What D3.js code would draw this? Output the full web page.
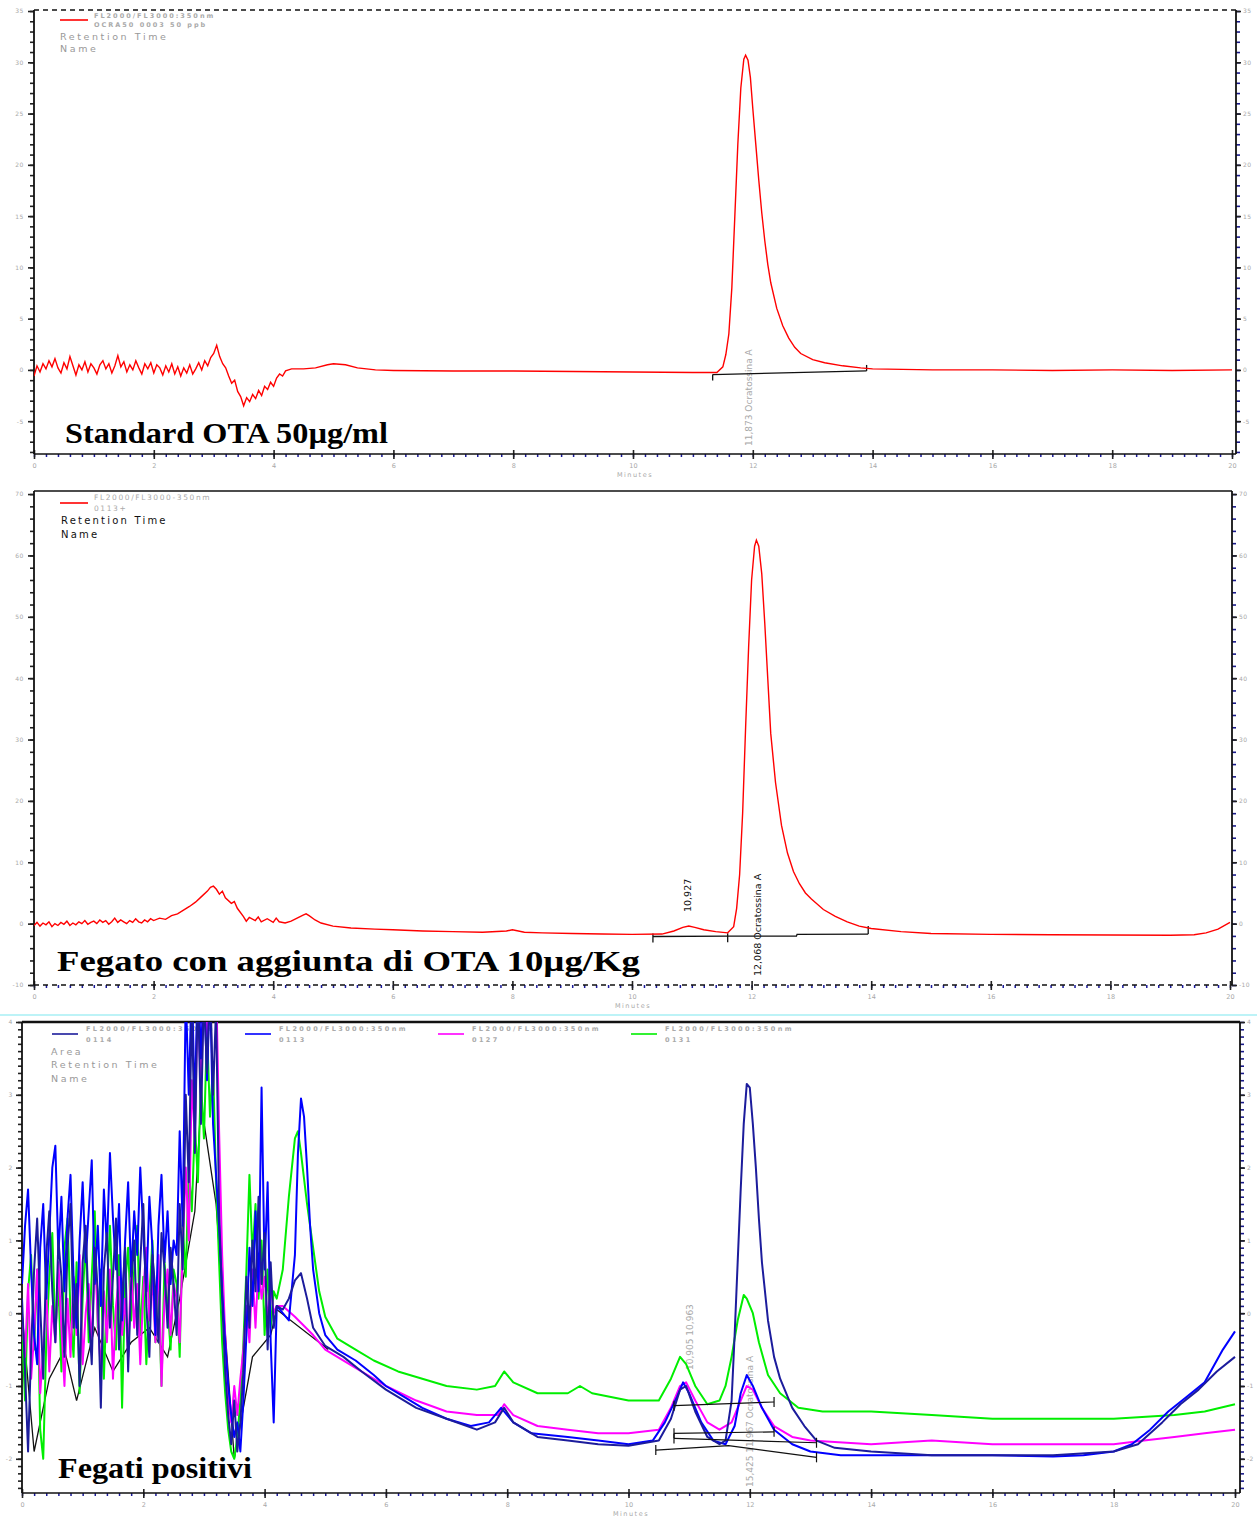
<!DOCTYPE html>
<html><head><meta charset="utf-8">
<script src="https://cdn.jsdelivr.net/npm/d3@7"></script>
<style>body{margin:0;background:#fff}svg{display:block}</style>
</head><body>
<svg id="c" width="1257" height="1522"></svg>
<script>
// ---------------- DATA ----------------
const xTicks = [0,2,4,6,8,10,12,14,16,18,20];
const p1YTicks = [-5,0,5,10,15,20,25,30,35];
const p2YTicks = [-10,0,10,20,30,40,50,60,70];
const p3YTicks = [-2,-1,0,1,2,3,4];

const p1Title = "Standard OTA 50µg/ml";
const p2Title = "Fegato con aggiunta di OTA 10µg/Kg";
const p3Title = "Fegati positivi";

// Panel 1: standard (time min, signal)
const p1Trace = [[0,-0.6],[0.05,0.4],[0.1,-0.2],[0.15,0.6],[0.2,0.1],[0.25,0.9],[0.3,0.3],[0.35,1.1],[0.4,0.2],[0.45,-0.3],[0.5,0.7],[0.55,0.1],[0.6,1.3],[0.65,0.4],[0.7,-0.5],[0.75,0.5],[0.8,0.0],[0.85,0.8],[0.9,-0.2],[0.95,0.6],[1.0,0.2],[1.05,-0.4],[1.1,0.5],[1.15,0.9],[1.2,0.1],[1.25,0.6],[1.3,-0.3],[1.35,0.4],[1.4,1.4],[1.45,0.3],[1.5,0.8],[1.55,-0.2],[1.6,0.5],[1.65,0.0],[1.7,0.9],[1.75,0.2],[1.8,-0.4],[1.85,0.6],[1.9,0.1],[1.95,0.7],[2.0,-0.3],[2.05,0.5],[2.1,0.2],[2.15,-0.5],[2.2,0.4],[2.25,-0.2],[2.3,0.6],[2.35,-0.4],[2.4,0.3],[2.45,-0.6],[2.5,0.2],[2.55,-0.3],[2.6,0.5],[2.65,-0.4],[2.7,0.1],[2.75,0.7],[2.8,0.0],[2.85,0.9],[2.9,0.4],[2.95,1.2],[3.0,1.6],[3.05,2.4],[3.1,1.3],[3.15,0.6],[3.2,0.2],[3.25,-0.6],[3.3,-1.3],[3.35,-1.0],[3.4,-2.1],[3.45,-2.6],[3.5,-3.5],[3.55,-2.7],[3.6,-3.1],[3.65,-2.4],[3.7,-2.8],[3.75,-2.0],[3.8,-2.5],[3.85,-1.6],[3.9,-1.9],[3.95,-1.2],[4.0,-1.6],[4.05,-0.8],[4.1,-0.4],[4.15,-0.6],[4.2,-0.1],[4.3,0.1],[4.5,0.1],[4.7,0.2],[4.9,0.5],[5.0,0.6],[5.2,0.5],[5.4,0.2],[5.7,0.0],[6,-0.05],[7,-0.1],[8,-0.1],[9,-0.15],[10,-0.2],[11,-0.25],[11.4,-0.25],[11.5,0.3],[11.55,1.5],[11.6,3.5],[11.65,8],[11.7,15],[11.75,22],[11.8,27.5],[11.85,30.3],[11.88,30.7],[11.92,30.2],[11.96,28.5],[12.0,25.5],[12.05,22],[12.1,18.5],[12.15,15.3],[12.2,12.6],[12.25,10.3],[12.3,8.5],[12.4,6.0],[12.5,4.3],[12.6,3.1],[12.7,2.2],[12.8,1.6],[13.0,1.0],[13.2,0.7],[13.5,0.4],[13.8,0.2],[14,0.1],[15,0.0],[16,0.0],[17,-0.05],[18,0.0],[19,-0.05],[20,0.0]];
const p1Baseline = [[11.33,-0.45],[13.9,-0.1]];

// Panel 2: spiked liver
const p2Trace = [[0,-0.3],[0.05,0.2],[0.1,-0.4],[0.15,0.1],[0.2,-0.2],[0.25,0.3],[0.3,-0.5],[0.35,0.0],[0.4,-0.3],[0.45,0.2],[0.5,-0.1],[0.55,0.4],[0.6,-0.3],[0.65,0.1],[0.7,-0.2],[0.75,0.3],[0.8,0.0],[0.85,0.5],[0.9,-0.1],[0.95,0.2],[1.0,0.4],[1.05,0.0],[1.1,0.6],[1.15,0.2],[1.2,0.5],[1.25,-0.1],[1.3,0.3],[1.35,0.9],[1.4,0.2],[1.45,0.6],[1.5,0.3],[1.55,0.0],[1.6,0.5],[1.65,0.2],[1.7,0.8],[1.75,0.3],[1.8,0.1],[1.85,0.6],[1.9,0.3],[1.95,0.8],[2.0,0.5],[2.1,0.9],[2.2,0.7],[2.3,1.3],[2.4,1.6],[2.5,2.2],[2.6,2.8],[2.7,3.5],[2.8,4.4],[2.9,5.3],[2.95,5.9],[3.0,6.1],[3.05,5.6],[3.1,4.8],[3.15,5.3],[3.2,4.2],[3.3,3.3],[3.35,3.6],[3.4,2.5],[3.5,1.2],[3.55,0.4],[3.6,1.0],[3.7,0.5],[3.75,1.1],[3.8,0.3],[3.9,0.8],[4.0,0.2],[4.05,0.9],[4.1,0.3],[4.2,0.1],[4.3,0.4],[4.4,0.9],[4.5,1.4],[4.55,1.6],[4.6,1.3],[4.7,0.6],[4.8,0.1],[5.0,-0.4],[5.3,-0.7],[5.7,-0.9],[6,-1.0],[6.5,-1.2],[7,-1.3],[7.5,-1.4],[7.9,-1.2],[8.0,-1.0],[8.2,-1.4],[8.5,-1.5],[9,-1.6],[9.5,-1.7],[10,-1.75],[10.5,-1.7],[10.7,-1.2],[10.85,-0.6],[10.95,-0.4],[11.05,-0.6],[11.2,-1.0],[11.4,-1.3],[11.6,-1.5],[11.7,-0.5],[11.75,2.5],[11.8,8],[11.85,18],[11.9,32],[11.95,45],[12.0,56],[12.05,61.5],[12.08,62.5],[12.12,61.5],[12.17,57],[12.22,49],[12.27,40],[12.32,31],[12.4,23],[12.5,16],[12.6,11.5],[12.7,8.5],[12.8,6.5],[12.9,5.0],[13.0,4.0],[13.2,2.3],[13.4,1.2],[13.6,0.3],[13.8,-0.4],[14,-0.8],[14.5,-1.3],[15,-1.6],[16,-1.75],[17,-1.8],[18,-1.85],[19,-1.9],[19.4,-1.8],[19.6,-1.5],[19.8,-0.9],[20,0.2]];
const p2Baseline = [[10.35,-2.1],[11.6,-2.05],[12.75,-2.05],[12.76,-1.75],[13.95,-1.7]];
const p2BaselineTicks = [[10.35,-2.1],[11.6,-2.05],[13.95,-1.7]];

// Panel 3: positive livers
const p3NoiseTimes = [0,0.05,0.1,0.15,0.2,0.25,0.3,0.35,0.4,0.45,0.5,0.55,0.6,0.65,0.7,0.75,0.8,0.85,0.9,0.95,1.0,1.05,1.1,1.15,1.2,1.25,1.3,1.35,1.4,1.45,1.5,1.55,1.6,1.65,1.7,1.75,1.8,1.85,1.9,1.95,2.0,2.05,2.1,2.15,2.2,2.25,2.3,2.35,2.4,2.45,2.5,2.55,2.6,2.65,2.7,2.75,2.8,2.85,2.9,2.95,3.0,3.05,3.1,3.15,3.2,3.25,3.3,3.35,3.4,3.45,3.5,3.55,3.6,3.65,3.7,3.75,3.8,3.85,3.9,3.95,4.0,4.05,4.1,4.15,4.2];
const p3BlueNoise = [0.4,1.2,1.7,0.6,-0.3,-0.7,0.9,1.5,0.2,1.1,2.0,2.3,0.8,1.6,0.3,1.3,1.9,0.5,-0.2,1.0,1.8,0.7,1.4,2.1,0.4,1.2,0.1,1.7,0.9,2.2,1.3,0.6,1.5,-0.1,1.0,1.8,0.5,1.4,0.8,2.0,1.1,0.3,1.6,0.9,-0.3,1.2,1.9,0.7,1.4,0.4,1.0,0.8,2.5,1.2,4.4,3.0,4.6,2.8,4.8,3.5,4.6,3.2,4.5,2.6,1.9,1.2,0.3,-0.4,-1.0,-1.4,-1.7,-1.5,-1.9,-1.2,-0.3,0.9,0.1,1.4,0.3,3.1,0.6,1.8,-0.4,-1.5,0.1];
const p3NavyNoise = [0.2,-0.8,-1.9,-0.5,0.6,1.3,0.1,-0.9,0.8,1.4,0.3,-0.4,1.0,0.5,-0.6,0.9,1.5,-0.2,0.4,-1.0,0.7,1.2,0.0,-0.7,0.9,0.3,-1.3,0.6,1.1,-0.2,0.5,1.3,-0.5,0.2,0.9,-0.8,0.4,1.0,-0.3,0.7,1.5,0.1,-0.6,0.8,0.3,-0.4,1.1,0.6,-0.2,0.9,0.4,-0.3,1.5,0.6,3.0,1.8,4.3,2.2,4.5,2.6,4.4,3.3,4.6,3.0,4.2,1.4,0.2,-0.8,-1.4,-1.8,-1.2,-1.9,-1.5,-0.8,0.5,-0.2,1.0,0.3,1.6,0.4,1.1,-0.5,0.7,-0.2,0.1];
const p3MagentaNoise = [0.0,-0.6,0.4,-0.9,-0.3,0.6,-1.1,-0.5,0.3,-0.8,0.1,-0.4,0.7,-0.2,-1.0,0.2,-0.6,0.5,-0.3,0.8,-0.7,0.0,0.4,-0.5,0.9,-0.1,-0.8,0.3,-0.4,0.6,-0.9,0.1,0.5,-0.3,0.2,-0.6,0.7,-0.2,0.4,-0.7,0.3,0.9,-0.1,0.5,-0.4,0.8,-1.0,0.2,0.6,-0.3,0.4,0.2,-0.4,0.9,2.0,1.0,3.2,2.4,4.5,3.0,4.6,3.8,4.5,4.4,4.6,2.5,0.8,-0.3,-1.2,-1.5,-1.0,-1.4,-0.9,-0.5,0.1,-0.4,0.6,-0.2,0.7,0.2,0.5,-0.1,0.4,0.0,0.1];
const p3GreenNoise = [-0.2,-1.2,0.3,0.8,-0.5,0.6,-1.6,-2.0,-0.4,0.5,1.1,-0.3,0.4,-0.8,0.9,1.3,0.0,-0.6,0.7,-1.1,0.2,1.0,-0.4,0.5,1.4,-0.2,0.6,-0.9,0.3,1.2,0.1,-0.5,0.8,-1.3,0.4,0.9,-0.1,0.6,1.2,-0.3,0.5,-0.7,0.2,1.0,-0.4,0.3,-1.0,0.7,0.1,-0.5,0.6,0.4,-0.6,1.2,0.5,2.0,1.4,2.6,1.8,3.2,2.4,3.9,2.7,3.4,1.8,0.7,-0.4,-1.1,-1.6,-1.9,-2.0,-1.7,-1.2,-0.4,0.6,1.9,0.8,1.5,0.2,1.0,-0.3,0.6,-0.2,0.3,0.2];

const p3BlueTail = [[4.3,0.0],[4.4,-0.1],[4.5,0.8],[4.55,2.2],[4.6,2.95],[4.65,2.7],[4.7,2.0],[4.75,1.2],[4.8,0.6],[4.9,0.0],[5.0,-0.3],[5.2,-0.5],[5.5,-0.65],[5.8,-0.85],[6.0,-1.0],[6.3,-1.15],[6.6,-1.3],[7.0,-1.45],[7.4,-1.55],[7.7,-1.5],[7.9,-1.3],[8.1,-1.5],[8.4,-1.65],[9,-1.7],[9.5,-1.75],[10,-1.8],[10.4,-1.75],[10.6,-1.5],[10.8,-1.15],[10.9,-0.95],[11.0,-1.1],[11.2,-1.5],[11.4,-1.75],[11.6,-1.8],[11.75,-1.55],[11.85,-1.1],[11.95,-0.85],[12.05,-1.0],[12.2,-1.3],[12.4,-1.6],[12.7,-1.8],[13,-1.9],[13.5,-1.95],[14,-1.95],[15,-1.95],[16,-1.95],[17,-1.97],[17.5,-1.95],[18,-1.9],[18.3,-1.8],[18.6,-1.6],[18.9,-1.35],[19.2,-1.15],[19.5,-0.95],[19.8,-0.5],[20,-0.25]];
const p3NavyTail = [[4.3,0.05],[4.4,0.2],[4.5,0.45],[4.6,0.55],[4.7,0.2],[4.8,-0.2],[5.0,-0.45],[5.3,-0.6],[5.6,-0.8],[6,-1.05],[6.5,-1.3],[7,-1.45],[7.5,-1.6],[7.8,-1.5],[7.95,-1.3],[8.1,-1.5],[8.5,-1.7],[9,-1.75],[9.5,-1.8],[10,-1.82],[10.5,-1.75],[10.7,-1.45],[10.85,-1.05],[10.95,-1.0],[11.1,-1.35],[11.3,-1.7],[11.5,-1.8],[11.6,-1.75],[11.7,-1.2],[11.75,-0.3],[11.8,0.7],[11.85,1.7],[11.9,2.6],[11.95,3.15],[12.0,3.1],[12.05,2.6],[12.1,2.0],[12.15,1.3],[12.2,0.7],[12.3,-0.1],[12.4,-0.6],[12.5,-0.9],[12.7,-1.3],[12.9,-1.55],[13.1,-1.75],[13.4,-1.85],[14,-1.9],[15,-1.95],[16,-1.95],[17,-1.95],[18,-1.9],[18.4,-1.8],[18.8,-1.5],[19.1,-1.25],[19.4,-1.05],[19.7,-0.8],[20,-0.6]];
const p3GreenTail = [[4.3,0.6],[4.4,1.6],[4.5,2.4],[4.55,2.5],[4.6,2.2],[4.7,1.5],[4.8,0.9],[4.9,0.3],[5.0,-0.05],[5.2,-0.35],[5.5,-0.5],[5.8,-0.65],[6.2,-0.8],[6.6,-0.9],[7,-1.0],[7.5,-1.05],[7.8,-1.0],[7.95,-0.8],[8.1,-0.95],[8.5,-1.1],[9,-1.1],[9.2,-1.0],[9.4,-1.1],[10,-1.2],[10.5,-1.2],[10.7,-0.9],[10.85,-0.6],[10.95,-0.7],[11.1,-1.0],[11.3,-1.25],[11.5,-1.2],[11.6,-1.0],[11.7,-0.6],[11.8,-0.1],[11.9,0.25],[11.95,0.2],[12.05,0.0],[12.15,-0.4],[12.3,-0.85],[12.5,-1.1],[12.8,-1.3],[13.2,-1.35],[14,-1.35],[15,-1.4],[16,-1.45],[17,-1.45],[18,-1.45],[19,-1.4],[19.5,-1.35],[20,-1.25]];
const p3MagentaTail = [[4.3,0.1],[4.5,-0.05],[4.8,-0.3],[5.0,-0.5],[5.5,-0.75],[6,-1.0],[6.5,-1.2],[7,-1.35],[7.5,-1.4],[7.85,-1.4],[7.95,-1.25],[8.1,-1.4],[8.5,-1.55],[9,-1.6],[9.5,-1.65],[10,-1.65],[10.5,-1.6],[10.7,-1.3],[10.85,-1.0],[10.95,-0.95],[11.1,-1.2],[11.3,-1.5],[11.5,-1.6],[11.7,-1.5],[11.85,-1.2],[11.95,-1.0],[12.05,-1.05],[12.2,-1.3],[12.4,-1.55],[12.7,-1.7],[13,-1.75],[14,-1.8],[15,-1.75],[16,-1.8],[17,-1.8],[18,-1.8],[18.5,-1.75],[19,-1.7],[19.5,-1.65],[20,-1.6]];
const p3BlackTrace = [[0.0,0.0],[0.2,-1.9],[0.45,-0.9],[0.7,-0.5],[0.9,-1.2],[1.2,-0.2],[1.5,-0.8],[1.8,-0.4],[2.1,-0.2],[2.4,-0.6],[2.6,0.2],[2.85,1.4],[2.95,2.9],[3.2,1.5],[3.5,-2.0],[3.8,-0.6],[4.1,-0.3],[4.2,0.05],[5.05,-0.5]];
const p3Baselines = [
  [[10.75,-1.27],[12.4,-1.22]],
  [[10.75,-1.65],[12.4,-1.63]],
  [[10.75,-1.72],[13.1,-1.78]],
  [[10.45,-1.88],[11.65,-1.82],[13.1,-1.98]]
];
const p3Series = ["0114","0113","0127","0131"];
const p3Colors = ["#1c1c9c","#0000ff","#ff00ff","#00ee00"];

// ---------------- DRAW ----------------
const svg = d3.select('#c');
svg.append('rect').attr('width',1257).attr('height',1522).attr('fill','#fff');
const FONT = "DejaVu Sans, Arial, sans-serif";
const LBL = "#a8a8a8";
const fmt = d => String(d);

function makePanel(o){
  const g = svg.append('g');
  const x = d3.scaleLinear().domain([0,20]).range([o.left, o.x20]);
  const y = d3.scaleLinear().domain(o.yDomain).range([o.bottom, o.top]);
  const id = 'clip'+o.id;
  svg.append('clipPath').attr('id',id).append('rect')
    .attr('x',o.left).attr('y',o.top).attr('width',o.right-o.left).attr('height',o.bottom-o.top);

  const ymin = d3.range(Math.ceil(o.yDomain[0]/o.yMinor)*o.yMinor, o.yDomain[1]+1e-9, o.yMinor);
  g.append('g').attr('transform',`translate(${o.left},0)`)
    .call(d3.axisLeft(y).tickValues(ymin).tickSize(4).tickFormat(''))
    .call(a=>{a.select('.domain').remove();a.selectAll('line').attr('stroke','#222').attr('stroke-width',1.6);});
  g.append('g').attr('transform',`translate(${o.right},0)`)
    .call(d3.axisRight(y).tickValues(ymin).tickSize(4).tickFormat(''))
    .call(a=>{a.select('.domain').remove();a.selectAll('line').attr('stroke','#1a1a8a').attr('stroke-width',1.6);});
  g.append('g').attr('transform',`translate(${o.left},0)`)
    .call(d3.axisLeft(y).tickValues(o.yTicks).tickSize(6).tickPadding(o.lpad||4).tickFormat(fmt))
    .call(a=>{a.select('.domain').remove();a.selectAll('line').attr('stroke','#222').attr('stroke-width',1.6);
      a.selectAll('text').attr('fill',LBL).attr('font-size',6).attr('font-family',FONT).attr('letter-spacing',0.6);});
  g.append('g').attr('transform',`translate(${o.right},0)`)
    .call(d3.axisRight(y).tickValues(o.yTicks).tickSize(5).tickPadding(2).tickFormat(fmt))
    .call(a=>{a.select('.domain').remove();a.selectAll('line').attr('stroke','#222').attr('stroke-width',1.6);
      a.selectAll('text').attr('fill',LBL).attr('font-size',6).attr('font-family',FONT).attr('letter-spacing',0.4);});
  const xmin = d3.range(0,20.001,0.2);
  g.append('g').attr('transform',`translate(0,${o.bottom})`)
    .call(d3.axisBottom(x).tickValues(xmin).tickSize(3).tickFormat(''))
    .call(a=>{a.select('.domain').remove();a.selectAll('line').attr('stroke','#1a1a9a').attr('stroke-width',1.5);});
  g.append('g').attr('transform',`translate(0,${o.bottom})`)
    .call(d3.axisBottom(x).tickValues(xTicks).tickSize(5).tickPadding(4).tickFormat(fmt))
    .call(a=>{a.select('.domain').remove();a.selectAll('line').attr('stroke','#222').attr('stroke-width',1.6).attr('y1',-4);
      a.selectAll('text').attr('fill',LBL).attr('font-size',6.5).attr('font-family',FONT);});
  g.append('text').attr('x',(o.left+o.right)/2).attr('y',o.bottom+23).attr('text-anchor','middle')
    .attr('fill',LBL).attr('font-size',6.5).attr('font-family',FONT).attr('letter-spacing',1.5).text('Minutes');

  g.append('line').attr('x1',o.left).attr('x2',o.left).attr('y1',o.top).attr('y2',o.bottom).attr('stroke','#111').attr('stroke-width',1.8);
  g.append('line').attr('x1',o.right).attr('x2',o.right).attr('y1',o.top).attr('y2',o.bottom).attr('stroke','#111').attr('stroke-width',1.8);
  g.append('line').attr('x1',o.left).attr('x2',o.right).attr('y1',o.top).attr('y2',o.top).attr('stroke','#111')
    .attr('stroke-width',o.topW||1.5).attr('stroke-dasharray',o.topDash?'5,4':null);
  g.append('line').attr('x1',o.left).attr('x2',o.right).attr('y1',o.bottom).attr('y2',o.bottom).attr('stroke','#111')
    .attr('stroke-width',1.6).attr('stroke-dasharray',o.botDash?'5,4':null);

  const plot = svg.append('g').attr('clip-path',`url(#${id})`);
  return {g, plot, x, y};
}

const line = (x,y)=>d3.line().x(d=>x(d[0])).y(d=>y(d[1]));

function vlabel(g,xp,yp,txt,color,size){
  g.append('text').attr('transform',`translate(${xp},${yp}) rotate(-90)`)
   .attr('fill',color).attr('font-size',size).attr('font-family',FONT).text(txt);
}

// ---------- Panel 1 ----------
{
  const P = makePanel({id:1,left:34,right:1236,x20:1232,top:10,bottom:454,yDomain:[-8.2,35.1],yTicks:p1YTicks,yMinor:1,topDash:true});
  const {g,plot,x,y} = P;
  vlabel(g,752,446,'11,873  Ocratossina A',LBL,9);
  plot.append('path').datum(p1Baseline).attr('d',line(x,y)).attr('fill','none').attr('stroke','#111').attr('stroke-width',1.3);
  plot.append('line').attr('x1',x(p1Baseline[0][0])).attr('x2',x(p1Baseline[0][0])).attr('y1',y(p1Baseline[0][1])).attr('y2',y(p1Baseline[0][1])+6).attr('stroke','#111').attr('stroke-width',1.3);
  plot.append('line').attr('x1',x(p1Baseline[1][0])).attr('x2',x(p1Baseline[1][0])).attr('y1',y(p1Baseline[1][1])).attr('y2',y(p1Baseline[1][1])-6).attr('stroke','#111').attr('stroke-width',1.3);
  plot.append('path').datum(p1Trace).attr('d',line(x,y)).attr('fill','none').attr('stroke','#ff0000').attr('stroke-width',1.4);
  g.append('line').attr('x1',60).attr('x2',88).attr('y1',20).attr('y2',20).attr('stroke','#ff0000').attr('stroke-width',1.6);
  g.append('text').attr('x',94).attr('y',18).attr('font-size',6.5).attr('font-family',FONT).attr('font-weight','bold').attr('fill','#aaa').attr('letter-spacing',2).text('FL2000/FL3000:350nm');
  g.append('text').attr('x',94).attr('y',27).attr('font-size',6.5).attr('font-family',FONT).attr('font-weight','bold').attr('fill','#aaa').attr('letter-spacing',2).text('OCRA50 0003 50 ppb');
  g.append('text').attr('x',60).attr('y',40).attr('font-size',9.5).attr('font-family',FONT).attr('fill','#999').attr('letter-spacing',2.6).text('Retention Time');
  g.append('text').attr('x',60).attr('y',52).attr('font-size',9.5).attr('font-family',FONT).attr('fill','#999').attr('letter-spacing',2.6).text('Name');
  g.append('text').attr('x',65).attr('y',443).attr('font-size',29).attr('font-weight','bold').attr('font-family','Liberation Serif, Times New Roman, serif')
    .attr('textLength',323).attr('lengthAdjust','spacingAndGlyphs').attr('fill','#000').text(p1Title);
}

// ---------- Panel 2 ----------
{
  const P = makePanel({id:2,left:34,right:1232,x20:1230,top:491,bottom:985,yDomain:[-10,70.5],yTicks:p2YTicks,yMinor:2,botDash:true});
  const {g,plot,x,y} = P;
  vlabel(g,691,912,'10,927','#111',9.5);
  vlabel(g,761,976,'12,068  Ocratossina A','#111',9.5);
  plot.append('path').datum(p2Baseline).attr('d',line(x,y)).attr('fill','none').attr('stroke','#111').attr('stroke-width',1.3);
  p2BaselineTicks.forEach((d,i)=>{
    plot.append('line').attr('x1',x(d[0])).attr('x2',x(d[0])).attr('y1',y(d[1])+(i==2?0:-3)).attr('y2',y(d[1])+(i==2?-8:6)).attr('stroke','#111').attr('stroke-width',1.3);
  });
  plot.append('path').datum(p2Trace).attr('d',line(x,y)).attr('fill','none').attr('stroke','#ff0000').attr('stroke-width',1.4);
  g.append('line').attr('x1',60).attr('x2',88).attr('y1',503).attr('y2',503).attr('stroke','#ff0000').attr('stroke-width',1.6);
  g.append('text').attr('x',94).attr('y',500).attr('font-size',7.5).attr('font-family',FONT).attr('fill','#aaa').attr('letter-spacing',1.6).text('FL2000/FL3000-350nm');
  g.append('text').attr('x',94).attr('y',511).attr('font-size',7.5).attr('font-family',FONT).attr('fill','#aaa').attr('letter-spacing',1.6).text('0113+');
  g.append('text').attr('x',61).attr('y',524).attr('font-size',10).attr('font-family',FONT).attr('fill','#111').attr('letter-spacing',2.2).text('Retention Time');
  g.append('text').attr('x',61).attr('y',538).attr('font-size',10).attr('font-family',FONT).attr('fill','#111').attr('letter-spacing',2.2).text('Name');
  g.append('text').attr('x',57).attr('y',971).attr('font-size',30).attr('font-weight','bold').attr('font-family','Liberation Serif, Times New Roman, serif')
    .attr('textLength',583).attr('lengthAdjust','spacingAndGlyphs').attr('fill','#000').text(p2Title);
}

// ---------- Panel 3 ----------
svg.append('line').attr('x1',0).attr('x2',1257).attr('y1',1015).attr('y2',1015).attr('stroke','#bdf3f7').attr('stroke-width',2);
{
  const P = makePanel({id:3,left:22,right:1240,x20:1235,top:1022,bottom:1493,yDomain:[-2.47,4.0],yTicks:p3YTicks,yMinor:0.1,topW:2.5,lpad:3});
  const {g,plot,x,y} = P;
  vlabel(g,693,1370,'10,905   10,963',LBL,9);
  vlabel(g,753,1487,'15,425   11,967  Ocratossina A',LBL,9);
  const join = (noise,tail)=>p3NoiseTimes.map((t,i)=>[t,noise[i]]).concat(tail);
  const traces = {
    green: join(p3GreenNoise,p3GreenTail),
    magenta: join(p3MagentaNoise,p3MagentaTail),
    blue: join(p3BlueNoise,p3BlueTail),
    navy: join(p3NavyNoise,p3NavyTail)
  };
  plot.append('path').datum(p3BlackTrace).attr('d',line(x,y)).attr('fill','none').attr('stroke','#111').attr('stroke-width',1.3);
  [['green',p3Colors[3]],['magenta',p3Colors[2]],['blue',p3Colors[1]],['navy',p3Colors[0]]].forEach(([k,c])=>{
    plot.append('path').datum(traces[k]).attr('d',line(x,y)).attr('fill','none').attr('stroke',c).attr('stroke-width',2).attr('stroke-linejoin','round');
  });
  p3Baselines.forEach(seg=>{
    plot.append('path').datum(seg).attr('d',line(x,y)).attr('fill','none').attr('stroke','#111').attr('stroke-width',1.2);
    [seg[0],seg[seg.length-1]].forEach(d=>{
      plot.append('line').attr('x1',x(d[0])).attr('x2',x(d[0])).attr('y1',y(d[1])-5).attr('y2',y(d[1])+5).attr('stroke','#111').attr('stroke-width',1.2);
    });
  });
  const lx = [52,245,438,631];
  p3Series.forEach((s,i)=>{
    g.append('line').attr('x1',lx[i]).attr('x2',lx[i]+26).attr('y1',1034).attr('y2',1034).attr('stroke',p3Colors[i]).attr('stroke-width',1.6);
    g.append('text').attr('x',lx[i]+34).attr('y',1031).attr('font-size',6.5).attr('font-family',FONT).attr('font-weight','bold').attr('fill','#aaa').attr('letter-spacing',2.4).text('FL2000/FL3000:350nm');
    g.append('text').attr('x',lx[i]+34).attr('y',1042).attr('font-size',6.5).attr('font-family',FONT).attr('font-weight','bold').attr('fill','#aaa').attr('letter-spacing',2.4).text(s);
  });
  [['Area',1055],['Retention Time',1068],['Name',1082]].forEach(([t,yy])=>{
    g.append('text').attr('x',51).attr('y',yy).attr('font-size',9.5).attr('font-family',FONT).attr('fill','#999').attr('letter-spacing',2.6).text(t);
  });
  g.append('text').attr('x',58).attr('y',1478).attr('font-size',29).attr('font-weight','bold').attr('font-family','Liberation Serif, Times New Roman, serif')
    .attr('textLength',194).attr('lengthAdjust','spacingAndGlyphs').attr('fill','#000').text(p3Title);
}
</script>
</body></html>
